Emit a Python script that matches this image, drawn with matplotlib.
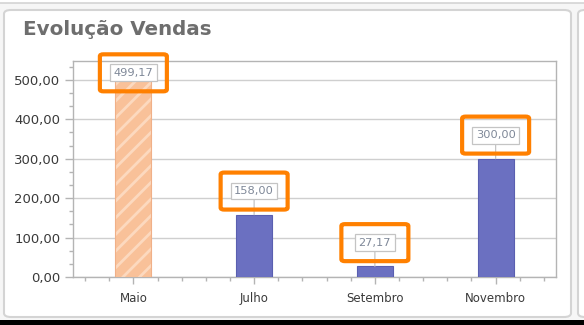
import matplotlib
matplotlib.use("Agg")
import matplotlib.pyplot as plt
from matplotlib.patches import FancyBboxPatch, Rectangle
from matplotlib.ticker import MultipleLocator, FuncFormatter

categories = ["Maio", "Julho", "Setembro", "Novembro"]
values = [499.17, 158.00, 27.17, 300.00]
value_labels = ["499,17", "158,00", "27,17", "300,00"]
title = "Evolução Vendas"

W, H = 584, 325
fig = plt.figure(figsize=(W / 100, H / 100), dpi=100)
fig.patch.set_facecolor("#f6f6f6")

def px(x0, y0, w, h):
    return (x0 / W, 1 - (y0 + h) / H, w / W, h / H)

# outer panel
bx = px(4, 10, 567, 307)
fig.patches.append(FancyBboxPatch((bx[0], bx[1]), bx[2], bx[3],
                                  boxstyle="round,pad=0,rounding_size=0.012",
                                  transform=fig.transFigure, fc="white", ec="#d4d4d4", lw=1.5, zorder=-5))
# neighbour panels
bx = px(578, 10, 30, 307)
fig.patches.append(FancyBboxPatch((bx[0], bx[1]), bx[2], bx[3],
                                  boxstyle="round,pad=0,rounding_size=0.012",
                                  transform=fig.transFigure, fc="white", ec="#d4d4d4", lw=1.5, zorder=-5))
bx = px(-5, -20, 590, 23)
fig.patches.append(Rectangle((bx[0], bx[1]), bx[2], bx[3], transform=fig.transFigure,
                             fc="white", ec="#d4d4d4", lw=1.2, zorder=-5))
bx = px(0, 320, 584, 6)
fig.patches.append(Rectangle((bx[0], bx[1]), bx[2], bx[3], transform=fig.transFigure,
                             fc="black", ec="none", zorder=-5))

fig.text(23 / W, 1 - 29.5 / H, title, fontsize=14.3, fontweight="bold", color="#6e6e6e",
         ha="left", va="center", family="DejaVu Sans")

ax = fig.add_axes(px(73, 61, 483, 216))
ax.set_facecolor("white")
x = list(range(len(categories)))
ymax = 548
ax.set_xlim(-0.5, len(categories) - 0.5)
ax.set_ylim(0, ymax)

plt.rcParams["hatch.linewidth"] = 2.0
for i, v in enumerate(values):
    if i == 0:
        ax.bar(i, v, width=0.3, color="#f9c199", edgecolor="#fcd9bf", hatch="//", lw=0, zorder=3)
        ax.bar(i, v, width=0.3, color="none", edgecolor="#f0b088", lw=0.8, zorder=4)
    else:
        ax.bar(i, v, width=0.3, color="#6b70c1", edgecolor="#5a5fb0", lw=0.8, zorder=3)

ax.yaxis.set_major_locator(MultipleLocator(100))
ax.yaxis.set_minor_locator(MultipleLocator(100 / 3))
ax.xaxis.set_major_locator(MultipleLocator(1))
ax.xaxis.set_minor_locator(MultipleLocator(0.2))
ax.yaxis.set_major_formatter(FuncFormatter(lambda v, p: f"{v:.2f}".replace(".", ",")))
ax.set_xticks(x)
ax.set_xticklabels(categories)
ax.grid(axis="y", color="#cfcfcf", lw=1, zorder=0)
ax.set_axisbelow(True)
for s in ax.spines.values():
    s.set_color("#b4b4b4")
    s.set_linewidth(1)
ax.tick_params(axis="y", which="major", length=6, width=1, color="#b4b4b4", labelsize=9.5,
               labelcolor="#3a3a3a", pad=3)
ax.tick_params(axis="y", which="minor", length=3, width=1, color="#b4b4b4")
ax.tick_params(axis="x", which="major", length=5, width=1, color="#b4b4b4", labelsize=8.5,
               labelcolor="#3a3a3a", pad=6)
ax.tick_params(axis="x", which="minor", length=3, width=1, color="#b4b4b4")

fig.canvas.draw()
for i, (v, lab) in enumerate(zip(values, value_labels)):
    ly = min(v + 60, ymax - 30)
    ax.annotate(lab, xy=(i, v), xytext=(i, ly), ha="center", va="center",
                fontsize=8.2, color="#7f8898", zorder=6,
                bbox=dict(boxstyle="square,pad=0.3", fc="white", ec="#c4c4c4", lw=0.9),
                arrowprops=dict(arrowstyle="-", color="#c4c4c4", lw=0.9, shrinkA=0, shrinkB=0))
    cx, cy = ax.transData.transform((i, ly))
    w, h = 67, 37
    fx, fy = (cx - w / 2) / W, (cy - h / 2) / H
    fig.patches.append(FancyBboxPatch((fx, fy), w / W, h / H,
                                      boxstyle="round,pad=0,rounding_size=0.006",
                                      transform=fig.transFigure, fc="none", ec="#ff8000",
                                      lw=3, zorder=10))

fig.savefig("out.png", dpi=100, facecolor=fig.get_facecolor())
